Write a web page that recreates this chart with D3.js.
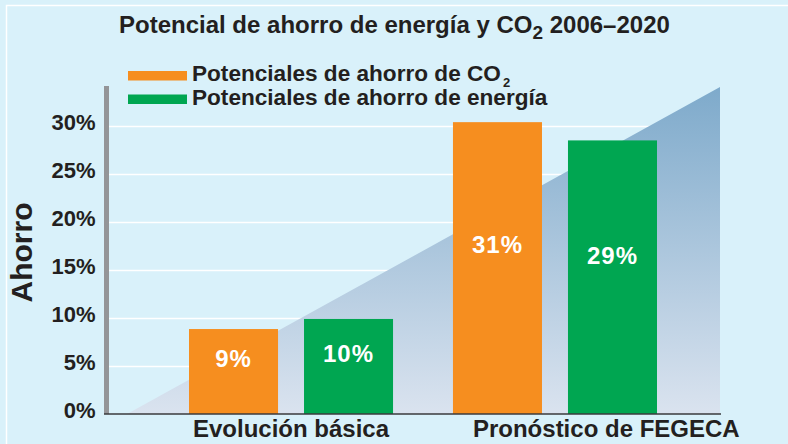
<!DOCTYPE html>
<html>
<head>
<meta charset="utf-8">
<script src="https://cdn.jsdelivr.net/npm/d3@7"></script>
<style>
  body { margin: 0; background: #d9f1fa; }
  svg { display: block; font-family: "Liberation Sans", Arial, sans-serif; font-weight: bold; }
</style>
</head>
<body>
<div id="chart"></div>
<script>
// data
var categories = ["Evolución básica", "Pronóstico de FEGECA"];
var series = ["Potenciales de ahorro de CO", "Potenciales de ahorro de energía"];
var co2Values = [8.85, 30.4];
var energyValues = [9.9, 28.5];
var barLabels = [["9%", "31%"], ["10%", "29%"]];
var yTicks = [0, 5, 10, 15, 20, 25, 30];
var colors = ["#f68e1f", "#00a651"];

var width = 788, height = 444;
var plotLeft = 109, plotRight = 720;

var svg = d3.select("#chart")
    .append("svg")
    .attr("width", width)
    .attr("height", height);

// background + white frame
svg.append("rect").attr("width", width).attr("height", height).attr("fill", "#d9f1fa");
svg.append("path")
    .attr("d", "M6.5," + height + "V5.5H" + width)
    .attr("fill", "none")
    .attr("stroke", "#ffffff")
    .attr("stroke-width", 1.5);

var y = d3.scaleLinear()
    .domain([0, 30])
    .range([414, 126]);

var x0 = d3.scaleBand()
    .domain(categories)
    .range([189, 657])
    .paddingInner(0.227);

var x1 = d3.scaleBand()
    .domain(series)
    .range([0, x0.bandwidth()])
    .paddingInner(0.226);

// gridlines
svg.append("g")
    .attr("transform", "translate(" + plotLeft + ",0)")
    .call(d3.axisLeft(y).tickValues(yTicks.slice(1)).tickSize(-(plotRight - plotLeft)).tickFormat(""))
    .call(function (g) { g.select(".domain").remove(); })
    .selectAll("line")
    .attr("stroke", "#ffffff")
    .attr("stroke-width", 1.5);

// background triangle
var defs = svg.append("defs");
var grad = defs.append("linearGradient")
    .attr("id", "tri")
    .attr("gradientUnits", "userSpaceOnUse")
    .attr("x1", 0).attr("x2", 0)
    .attr("y1", y(34.06)).attr("y2", y(0));
grad.append("stop").attr("offset", "0%").attr("stop-color", "#7eaacb");
grad.append("stop").attr("offset", "100%").attr("stop-color", "#dae3ef");

svg.append("path")
    .attr("d", "M" + (plotLeft + 18) + "," + y(0) + "L" + plotRight + "," + y(34.06) + "L" + plotRight + "," + y(0) + "Z")
    .attr("fill", "url(#tri)");

// y axis bar
svg.append("rect")
    .attr("x", 104)
    .attr("y", 86)
    .attr("width", 5)
    .attr("height", y(0) - 86)
    .attr("fill", "#949598");

var yAxis = svg.append("g")
    .attr("transform", "translate(106.5,0)")
    .call(d3.axisLeft(y).tickValues(yTicks).tickSize(0).tickPadding(11).tickFormat(function (d) { return d + "%"; }));
yAxis.select(".domain").remove();
yAxis.selectAll("text")
    .attr("dy", "0.18em")
    .attr("fill", "#231f20")
    .style("font-size", "22px")
    .style("font-family", "Liberation Sans, Arial, sans-serif")
    .style("font-weight", "bold");

// bars
var groups = svg.selectAll(".grp")
    .data(categories)
    .enter()
    .append("g")
    .attr("class", "grp")
    .attr("transform", function (d) { return "translate(" + x0(d) + ",0)"; });

groups.selectAll("rect")
    .data(function (d, i) {
        return [
            { s: series[0], v: co2Values[i], c: colors[0], t: barLabels[0][i] },
            { s: series[1], v: energyValues[i], c: colors[1], t: barLabels[1][i] }
        ];
    })
    .enter()
    .append("rect")
    .attr("x", function (d) { return x1(d.s); })
    .attr("y", function (d) { return y(d.v); })
    .attr("width", x1.bandwidth())
    .attr("height", function (d) { return y(0) - y(d.v); })
    .attr("fill", function (d) { return d.c; });

groups.selectAll("text")
    .data(function (d, i) {
        return [
            { s: series[0], v: co2Values[i], t: barLabels[0][i] },
            { s: series[1], v: energyValues[i], t: barLabels[1][i] }
        ];
    })
    .enter()
    .append("text")
    .attr("x", function (d) { return x1(d.s) + x1.bandwidth() / 2; })
    .attr("y", function (d) { return y(d.v * 0.55); })
    .attr("text-anchor", "middle")
    .attr("fill", "#ffffff")
    .style("font-size", "24px")
    .style("letter-spacing", "1px")
    .text(function (d) { return d.t; });

// baseline
svg.append("line")
    .attr("x1", 104).attr("x2", plotRight + 1)
    .attr("y1", y(0)).attr("y2", y(0))
    .attr("stroke", "#3a3a3c")
    .attr("stroke-width", 1.5);

// category labels
svg.selectAll(".cat")
    .data(categories)
    .enter()
    .append("text")
    .attr("class", "cat")
    .attr("x", function (d, i) { return i == 0 ? x0(d) + x0.bandwidth() / 2 : x0(d) + 20; })
    .attr("y", 437)
    .attr("text-anchor", function (d, i) { return i == 0 ? "middle" : "start"; })
    .attr("fill", "#231f20")
    .style("font-size", "24px")
    .text(function (d) { return d; });

// y title
svg.append("text")
    .attr("transform", "translate(32,252.5) rotate(-90)")
    .attr("text-anchor", "middle")
    .attr("fill", "#231f20")
    .style("font-size", "30px")
    .text("Ahorro");

// title
var title = svg.append("text")
    .attr("x", 119)
    .attr("y", 33)
    .attr("fill", "#231f20")
    .style("font-size", "24px");
title.append("tspan").text("Potencial de ahorro de energía y CO");
title.append("tspan").attr("dy", 5.5).style("font-size", "19px").text("2");
title.append("tspan").attr("dy", -5.5).text(" 2006–2020");

// legend
var legend = svg.selectAll(".leg")
    .data(series)
    .enter()
    .append("g")
    .attr("class", "leg")
    .attr("transform", function (d, i) { return "translate(128," + (71 + i * 23.5) + ")"; });

legend.append("rect")
    .attr("width", 59)
    .attr("height", 9.5)
    .attr("fill", function (d, i) { return colors[i]; });

var legText = legend.append("text")
    .attr("x", 64)
    .attr("y", 10.3)
    .attr("fill", "#231f20")
    .style("font-size", "22.6px");
legText.append("tspan").text(function (d) { return d; });
legText.filter(function (d, i) { return i == 0; })
    .append("tspan")
    .attr("dx", 2)
    .attr("dy", 5.5)
    .style("font-size", "13px")
    .text("2");
</script>
</body>
</html>
